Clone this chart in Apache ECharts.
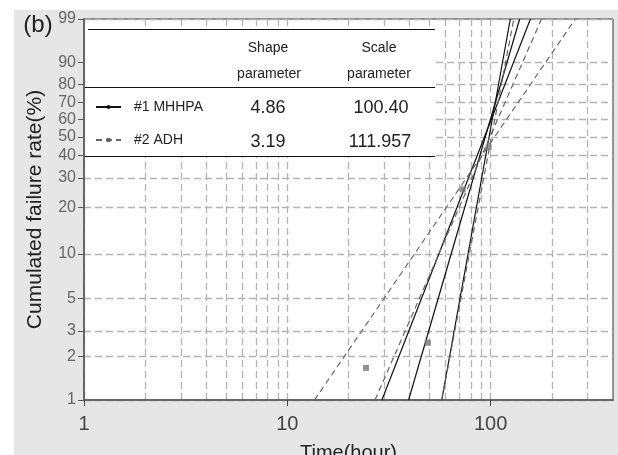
<!DOCTYPE html>
<html>
<head>
<meta charset="utf-8">
<script src="https://cdn.jsdelivr.net/npm/echarts@6/dist/echarts.min.js"></script>
<style>
html, body { margin: 0; padding: 0; background: #fff; }
#chart { width: 618px; height: 455px; }
</style>
</head>
<body>
<div id="chart"></div>
<script>
// y ticks in %, drawn on a weibull probability scale
const pctTicks = [1, 2, 3, 5, 10, 20, 30, 40, 50, 60, 70, 80, 90, 99]
const timeGrid = [1, 2, 3, 4, 5, 6, 7, 8, 9, 10, 20, 30, 40, 50, 60, 70, 80, 90, 100, 200, 300]
const timeLabels = [1, 10, 100]

// fitted lines and bounds, [time(hour), failure %]
const mhhpaFit = [[39.5, 1], [139, 99]]
const mhhpaBoundA = [[29.2, 1], [157, 99]]
const mhhpaBoundB = [[57.5, 1], [125, 99]]
const adhFit = [[27.0, 1], [178, 99]]
const adhBoundA = [[13.6, 1], [261, 99]]
const adhBoundB = [[57.5, 1], [130, 99]]
const adhPoints = [[24.4, 1.67], [49.1, 2.49], [72.9, 25.7], [97.8, 44.3]]

// parameter table
const seriesNames = ['#1 MHHPA', '#2 ADH']
const shapeParam = ['4.86', '3.19']
const scaleParam = ['100.40', '111.957']

const FONT = 'Liberation Sans, Arial, sans-serif'
const weib = p => Math.log(-Math.log(1 - p / 100))
const toXY = arr => arr.map(d => [d[0], weib(d[1])])

const solid = { color: '#111', width: 1.2, type: 'solid' }
const dash = { color: '#666', width: 1.2, type: [6, 4] }

function lineSeries (name, data, style, symbol) {
  return {
    name: name,
    type: 'line',
    data: toXY(data),
    symbol: symbol,
    symbolSize: 5,
    showSymbol: false,
    lineStyle: style,
    itemStyle: { color: style.color },
    silent: true
  }
}

const gridLine = { show: true, lineStyle: { color: '#b4b4b4', width: 1.3, type: [7, 4] } }

const chart = echarts.init(document.getElementById('chart'))
chart.setOption({
  animation: false,
  backgroundColor: '#fff',
  textStyle: { fontFamily: FONT },
  grid: {
    left: 84, right: 5, top: 19, bottom: 55,
    outerBoundsMode: 'none',
    show: true, backgroundColor: '#fff', borderColor: '#333', borderWidth: 1
  },
  legend: {
    data: seriesNames,
    orient: 'vertical',
    left: 95,
    top: 100,
    padding: 0,
    itemWidth: 25,
    itemHeight: 5,
    itemGap: 19,
    selectedMode: false,
    textStyle: { fontSize: 14, color: '#222', padding: [0, 0, 0, 8] }
  },
  xAxis: [
    {
      type: 'log',
      min: 1,
      max: 400,
      name: 'Time(hour)',
      nameLocation: 'middle',
      nameGap: 43,
      nameTextStyle: { fontSize: 20, color: '#222', fontFamily: FONT },
      axisLine: { onZero: false, lineStyle: { color: '#666', width: 2 } },
      axisTick: { show: false, customValues: timeGrid },
      axisLabel: { customValues: timeLabels, fontSize: 20, color: '#444', margin: 14 },
      splitLine: gridLine
    },
    {
      type: 'log',
      min: 1,
      max: 400,
      position: 'bottom',
      axisLine: { show: false, onZero: false },
      axisTick: { show: true, customValues: timeLabels, length: 6, lineStyle: { color: '#444' } },
      axisLabel: { show: false },
      splitLine: { show: false }
    }
  ],
  yAxis: {
    type: 'value',
    min: weib(1),
    max: weib(99),
    name: 'Cumulated failure rate(%)',
    nameLocation: 'middle',
    nameGap: 38,
    nameTextStyle: { fontSize: 21, color: '#222', fontFamily: FONT },
    axisLine: { show: true, onZero: false, lineStyle: { color: '#666', width: 2 } },
    axisTick: { show: true, customValues: pctTicks.map(weib), length: 6, lineStyle: { color: '#555' } },
    axisLabel: {
      customValues: pctTicks.map(weib),
      fontSize: 16,
      color: '#666',
      margin: 8,
      formatter: v => String(Math.round(100 * (1 - Math.exp(-Math.exp(v)))))
    },
    splitLine: gridLine
  },
  series: [
    lineSeries('#1 MHHPA', mhhpaFit, solid, 'circle'),
    lineSeries('', mhhpaBoundA, solid, 'none'),
    lineSeries('', mhhpaBoundB, solid, 'none'),
    lineSeries('#2 ADH', adhFit, dash, 'rect'),
    lineSeries('', adhBoundA, dash, 'none'),
    lineSeries('', adhBoundB, dash, 'none'),
    {
      name: 'ADH points',
      type: 'scatter',
      data: toXY(adhPoints),
      symbol: 'rect',
      symbolSize: 6,
      itemStyle: { color: '#777' },
      silent: true,
      z: 3
    }
  ],
  graphic: [
    { type: 'rect', z: -10, silent: true, shape: { x: 14, y: 10, width: 604, height: 445 }, style: { fill: '#e6e6e6' } },
    { type: 'text', x: 38, y: 25, silent: true, style: { text: '(b)', font: '24px ' + FONT, fill: '#222', align: 'center', verticalAlign: 'middle' } },
    // table box
    { type: 'rect', z: 1, silent: true, shape: { x: 85, y: 29, width: 350, height: 127 }, style: { fill: '#fff' } },
    { type: 'line', z: 3, silent: true, shape: { x1: 88, y1: 29.5, x2: 435, y2: 29.5 }, style: { stroke: '#111', lineWidth: 1 } },
    { type: 'line', z: 3, silent: true, shape: { x1: 85, y1: 87.5, x2: 435, y2: 87.5 }, style: { stroke: '#111', lineWidth: 1 } },
    { type: 'line', z: 3, silent: true, shape: { x1: 85, y1: 156.5, x2: 435, y2: 156.5 }, style: { stroke: '#111', lineWidth: 1 } },
    { type: 'text', z: 3, silent: true, x: 268, y: 48, style: { text: 'Shape', font: '14px ' + FONT, fill: '#222', align: 'center', verticalAlign: 'middle' } },
    { type: 'text', z: 3, silent: true, x: 269, y: 74, style: { text: 'parameter', font: '14px ' + FONT, fill: '#222', align: 'center', verticalAlign: 'middle' } },
    { type: 'text', z: 3, silent: true, x: 379, y: 48, style: { text: 'Scale', font: '14px ' + FONT, fill: '#222', align: 'center', verticalAlign: 'middle' } },
    { type: 'text', z: 3, silent: true, x: 379, y: 74, style: { text: 'parameter', font: '14px ' + FONT, fill: '#222', align: 'center', verticalAlign: 'middle' } },
    { type: 'text', z: 3, silent: true, x: 268, y: 108, style: { text: shapeParam[0], font: '18px ' + FONT, fill: '#222', align: 'center', verticalAlign: 'middle' } },
    { type: 'text', z: 3, silent: true, x: 268, y: 142, style: { text: shapeParam[1], font: '18px ' + FONT, fill: '#222', align: 'center', verticalAlign: 'middle' } },
    { type: 'text', z: 3, silent: true, x: 381, y: 108, style: { text: scaleParam[0], font: '18px ' + FONT, fill: '#222', align: 'center', verticalAlign: 'middle' } },
    { type: 'text', z: 3, silent: true, x: 380, y: 142, style: { text: scaleParam[1], font: '18px ' + FONT, fill: '#222', align: 'center', verticalAlign: 'middle' } }
  ]
})
</script>
</body>
</html>
